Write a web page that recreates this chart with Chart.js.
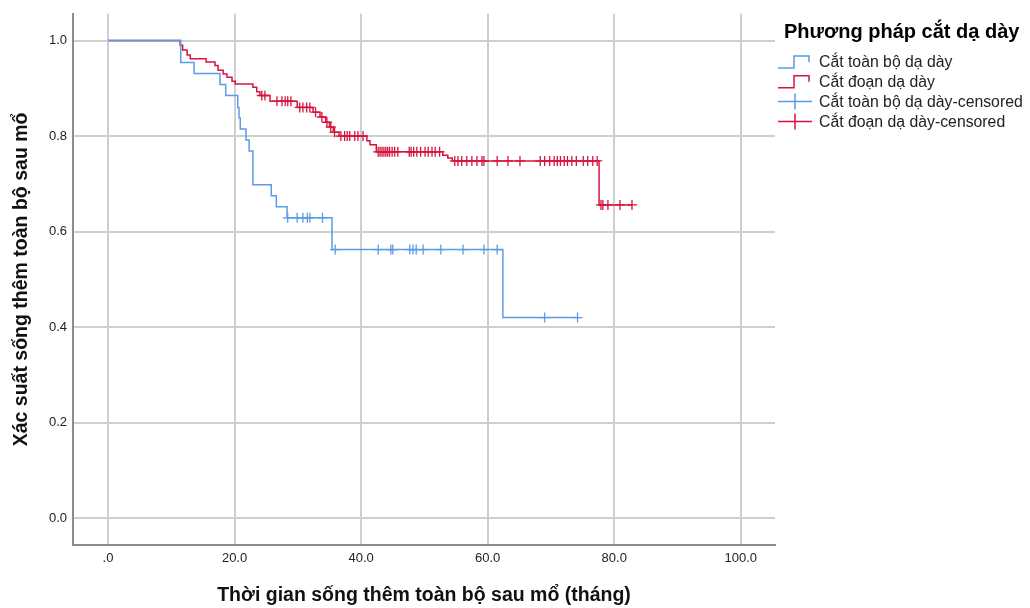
<!DOCTYPE html>
<html>
<head>
<meta charset="utf-8">
<script src="https://cdn.jsdelivr.net/npm/chart.js@4"></script>
<style>
  body { margin: 0; background: #fff; }
  canvas { display: block; }
</style>
</head>
<body>
<canvas id="kmChart" width="1030" height="608"></canvas>
<script>
// Kaplan-Meier survival by gastrectomy type

const legendTitle = "Phương pháp cắt dạ dày";
const groupNames = ["Cắt toàn bộ dạ dày", "Cắt đoạn dạ dày"];
const xTitle = "Thời gian sống thêm toàn bộ sau mổ (tháng)";
const yTitle = "Xác suất sống thêm toàn bộ sau mổ";

// total gastrectomy: event times (months) and survival after each step
const totalTimes = [0, 11.5, 13.6, 17.7, 18.6, 20.5, 20.7, 20.9, 21.8, 22.3, 22.9, 25.8, 26.6, 28.3, 35.4, 62.4];
const totalSurv  = [1.0, 0.954, 0.931, 0.908, 0.885, 0.860, 0.838, 0.815, 0.792, 0.769, 0.698, 0.675, 0.652, 0.629, 0.5625, 0.42];
const totalCensored = [28.4, 29.9, 30.8, 31.5, 31.9, 33.9, 35.9, 42.7, 44.7, 45.0, 47.7, 48.2, 48.7, 49.8,
  52.6, 56.1, 59.4, 61.5, 69.0, 74.2];

// partial gastrectomy
const partialTimes = [0, 11.4, 11.8, 12.5, 13.0, 15.5, 16.9, 17.4, 18.2, 18.8, 19.6, 20.1, 22.9, 23.5, 24.0,
  25.6, 29.9, 32.4, 33.5, 34.4, 35.0, 35.6, 36.5, 40.9, 41.4, 42.4, 52.9, 53.7, 54.4, 77.6];
const partialSurv = [1.0, 0.990, 0.980, 0.970, 0.962, 0.955, 0.948, 0.938, 0.930, 0.923, 0.915, 0.909, 0.902, 0.893, 0.885,
  0.873, 0.860, 0.850, 0.840, 0.829, 0.819, 0.808, 0.800, 0.790, 0.782, 0.767, 0.760, 0.754, 0.748, 0.656];
const partialCensored = [24.3, 24.8, 26.7, 27.5, 28.0, 28.4, 28.9, 30.3, 30.8, 31.4, 31.9, 32.8, 33.8, 34.6, 35.2, 35.8,
  36.8, 37.4, 37.8, 38.2, 39.0, 39.5, 40.3,
  42.7, 43.0, 43.3, 43.6, 43.9, 44.2, 44.5, 44.9, 45.3, 45.8,
  47.6, 47.9, 48.3, 48.8, 49.4, 50.1, 50.6, 51.2, 51.7, 52.4,
  54.8, 55.3, 55.9, 56.7, 57.5, 58.3, 59.1, 59.4, 61.5, 63.2, 65.1,
  68.3, 69.0, 69.8, 70.5, 71.0, 71.5, 72.1, 72.6, 73.3, 74.0, 75.1, 75.8, 76.6, 77.3,
  77.9, 78.2, 79.0, 80.9, 82.8];

const xTicks = [0, 20, 40, 60, 80, 100];
const yTicks = [0, 0.2, 0.4, 0.6, 0.8, 1.0];

const blue = "#5b9be6";
const red = "#d6143f";

function survivalAt(times, surv, t) {
  let s = surv[0];
  for (let i = 0; i < times.length; i++) {
    if (times[i] <= t) s = surv[i];
  }
  return s;
}

// step curve runs on to the last censored observation
function stepCurve(times, surv, censored) {
  const pts = times.map((t, i) => ({ x: t, y: surv[i] }));
  pts.push({ x: Math.max(...censored), y: surv[surv.length - 1] });
  return pts;
}

function censorMarks(times, surv, censored) {
  return censored.map(t => ({ x: t, y: survivalAt(times, surv, t) }));
}

Chart.defaults.font.family = '"Liberation Sans", Arial, sans-serif';

// legend drawn to the right of the plot, with step / cross icons
const sideLegend = {
  id: "sideLegend",
  afterDraw(chart) {
    const ctx = chart.ctx;
    ctx.save();
    ctx.textBaseline = "middle";
    ctx.fillStyle = "#000";
    ctx.font = 'bold 20px "Liberation Sans", Arial, sans-serif';
    ctx.fillText(legendTitle, 784, 32);
    ctx.font = '15.8px "Liberation Sans", Arial, sans-serif';
    chart.data.datasets.forEach((ds, i) => {
      const cy = 62 + i * 19.8;
      ctx.strokeStyle = ds.borderColor;
      ctx.lineWidth = 1.5;
      ctx.beginPath();
      if (ds.showLine) {
        ctx.moveTo(778, cy + 6);
        ctx.lineTo(794, cy + 6);
        ctx.lineTo(794, cy - 6);
        ctx.lineTo(809, cy - 6);
        ctx.lineTo(809, cy);
      } else {
        ctx.moveTo(778, cy);
        ctx.lineTo(812, cy);
        ctx.moveTo(795, cy - 8);
        ctx.lineTo(795, cy + 8);
      }
      ctx.stroke();
      ctx.fillStyle = "#222";
      ctx.fillText(ds.label, 819, cy + 1);
    });
    ctx.restore();
  }
};

new Chart(document.getElementById("kmChart"), {
  type: "scatter",
  data: {
    datasets: [
      {
        label: groupNames[0],
        data: stepCurve(totalTimes, totalSurv, totalCensored),
        showLine: true,
        stepped: true,
        borderColor: blue,
        borderWidth: 1.5,
        pointRadius: 0
      },
      {
        label: groupNames[1],
        data: stepCurve(partialTimes, partialSurv, partialCensored),
        showLine: true,
        stepped: true,
        borderColor: red,
        borderWidth: 1.5,
        pointRadius: 0
      },
      {
        label: groupNames[0] + "-censored",
        data: censorMarks(totalTimes, totalSurv, totalCensored),
        showLine: false,
        pointStyle: "cross",
        pointRadius: 5,
        pointBorderWidth: 1.3,
        borderColor: blue
      },
      {
        label: groupNames[1] + "-censored",
        data: censorMarks(partialTimes, partialSurv, partialCensored),
        showLine: false,
        pointStyle: "cross",
        pointRadius: 5,
        pointBorderWidth: 1.3,
        borderColor: red
      }
    ]
  },
  options: {
    responsive: false,
    animation: false,
    events: [],
    layout: { padding: { left: 0, right: 255, top: 11, bottom: 0 } },
    plugins: {
      legend: { display: false },
      tooltip: { enabled: false }
    },
    scales: {
      x: {
        type: "linear",
        min: -5.53,
        max: 105.4,
        afterBuildTicks: s => { s.ticks = xTicks.map(v => ({ value: v })); },
        afterFit: s => { s.height = 63; },
        grid: { color: "#cfcfcf", lineWidth: 2, drawTicks: false },
        border: { color: "#8c8c8c", width: 2 },
        ticks: {
          padding: 6,
          color: "#222",
          font: { size: 13 },
          maxRotation: 0,
          autoSkip: false,
          callback: v => v === 0 ? ".0" : v.toFixed(1)
        },
        title: {
          display: true,
          text: xTitle,
          color: "#111",
          font: { size: 19.5, weight: "bold" },
          padding: { top: 0, bottom: 1 }
        }
      },
      y: {
        type: "linear",
        min: -0.056,
        max: 1.056,
        afterBuildTicks: s => { s.ticks = yTicks.map(v => ({ value: v })); },
        afterFit: s => { s.width = 73; },
        grid: { color: "#cfcfcf", lineWidth: 2, drawTicks: false },
        border: { color: "#8c8c8c", width: 2 },
        ticks: {
          padding: 6,
          color: "#222",
          font: { size: 13 },
          callback: v => v.toFixed(1)
        },
        title: {
          display: true,
          text: yTitle,
          color: "#111",
          font: { size: 19.5, weight: "bold" },
          padding: { top: 10, bottom: 0 }
        }
      }
    }
  },
  plugins: [sideLegend]
});
</script>
</body>
</html>
